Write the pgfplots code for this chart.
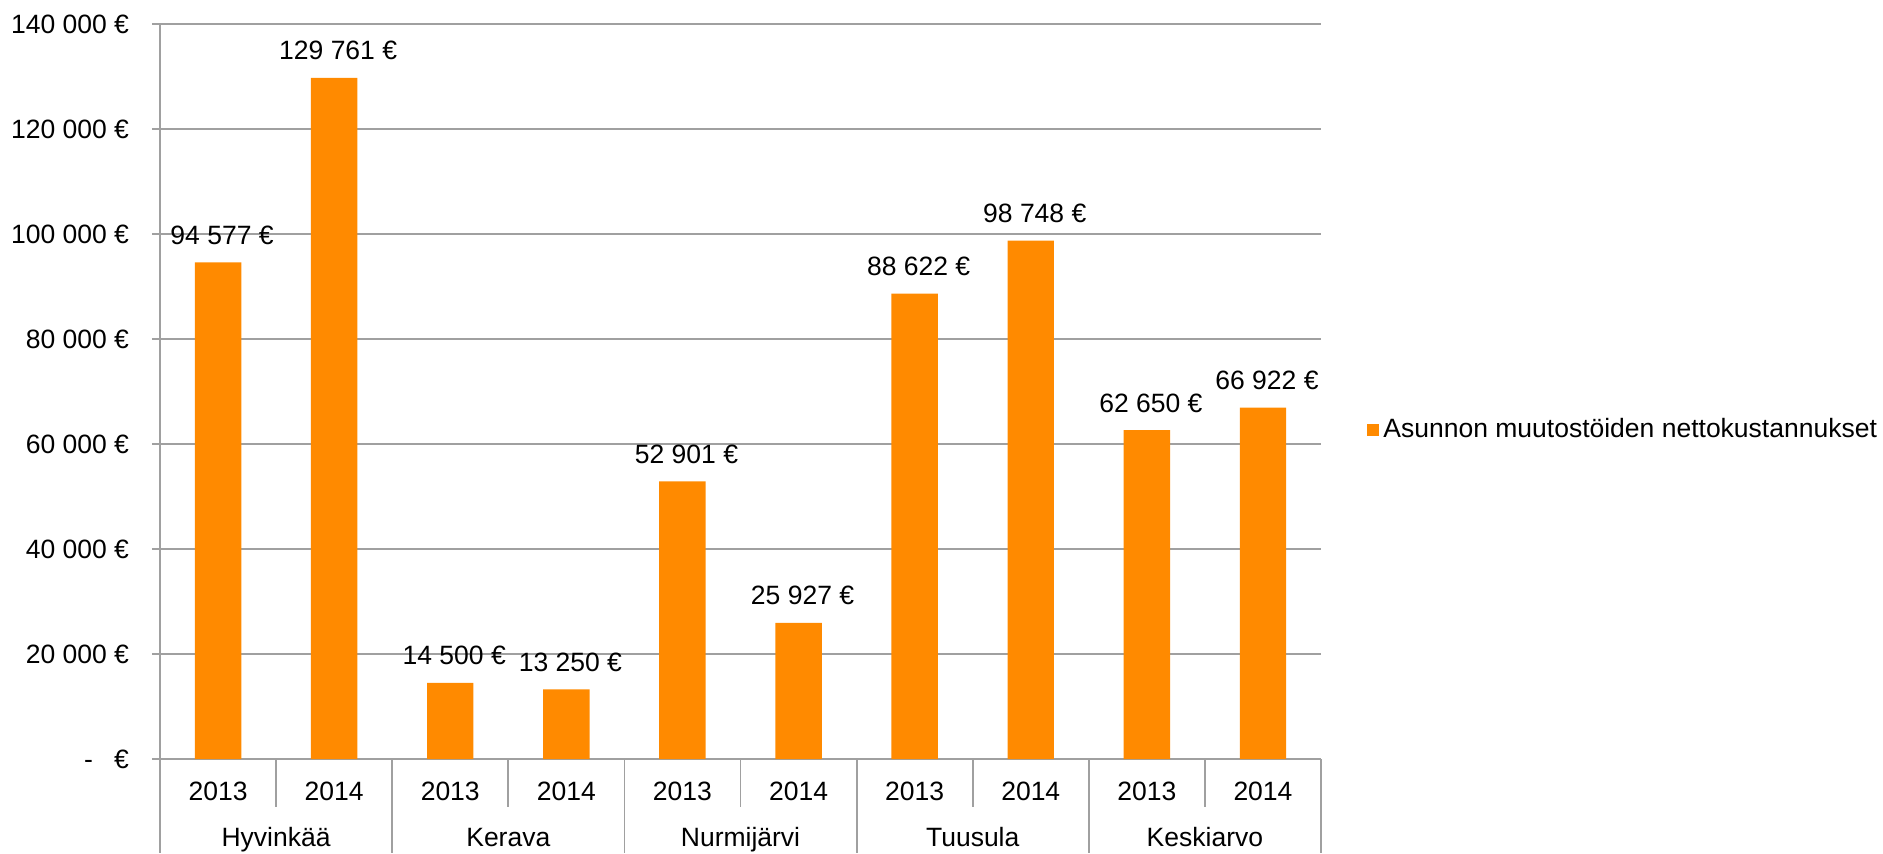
\documentclass[border=0pt]{standalone}
\usepackage{pgfplots}
\pgfplotsset{compat=1.18}
\usepackage{fontspec}
\setmainfont{Liberation Sans}
\definecolor{barorange}{HTML}{FF8A00}
\definecolor{linegray}{HTML}{A0A0A0}
\newcommand{\lab}{\fontsize{13.25}{16}\selectfont}
\begin{document}
\begin{tikzpicture}
\useasboundingbox (0,0) rectangle (941.5pt,426.5pt);
\begin{axis}[
    at={(80pt,47pt)}, anchor=south west,
    width=580.5pt, height=367.5pt, scale only axis,
    xmin=-0.5, xmax=9.5, ymin=0, ymax=140000,
    axis x line*=bottom, axis y line*=left,
    axis line style={linegray, line width=0.9pt},
    ymajorgrids, grid style={linegray, line width=0.9pt},
    ytick={0,20000,...,140000}, scaled y ticks=false,
    yticklabels={{-\hspace{0.8em}€},20 000 €,40 000 €,60 000 €,80 000 €,100 000 €,120 000 €,140 000 €},
    tick align=outside,
    major tick length=4pt,
    tick style={linegray, line width=0.9pt},
    xtick={0,...,9}, xticklabels={2013,2014,2013,2014,2013,2014,2013,2014,2013,2014},
    x tick style={draw=none},
    xticklabel style={anchor=base, yshift=-16.5pt, font=\lab},
    yticklabel style={anchor=east, xshift=-8pt, font=\lab},
    ybar, bar width=0.4, bar shift=0pt,
    nodes near coords, point meta=explicit symbolic,
    every node near coord/.append style={font=\lab, anchor=base, yshift=9pt, xshift=2pt},
    clip=false,
    legend style={at={(1,0.448)}, anchor=west, xshift=20pt, draw=none, fill=none, font=\lab},
    legend image code/.code={\fill[barorange] (0pt,-3pt) rectangle (6pt,3pt);},
]
\addplot[fill=barorange, draw=none] coordinates {
    (0,94577) [94 577 €]
    (1,129761) [129 761 €]
    (2,14500) [14 500 €]
    (3,13250) [13 250 €]
    (4,52901) [52 901 €]
    (5,25927) [25 927 €]
    (6,88622) [88 622 €]
    (7,98748) [98 748 €]
    (8,62650) [62 650 €]
    (9,66922) [66 922 €]
};
\addlegendentry{Asunnon muutostöiden nettokustannukset}
% separators of the category rows
\draw[linegray, line width=0.9pt] (axis cs:-0.5,0) -- ++(0pt,-47pt);
\draw[linegray, line width=0.9pt] (axis cs:1.5,0) -- ++(0pt,-47pt);
\draw[linegray, line width=0.9pt] (axis cs:3.5,0) -- ++(0pt,-47pt);
\draw[linegray, line width=0.9pt] (axis cs:5.5,0) -- ++(0pt,-47pt);
\draw[linegray, line width=0.9pt] (axis cs:7.5,0) -- ++(0pt,-47pt);
\draw[linegray, line width=0.9pt] (axis cs:9.5,0) -- ++(0pt,-47pt);
\draw[linegray, line width=0.9pt] (axis cs:0.5,0) -- ++(0pt,-24pt);
\draw[linegray, line width=0.9pt] (axis cs:2.5,0) -- ++(0pt,-24pt);
\draw[linegray, line width=0.9pt] (axis cs:4.5,0) -- ++(0pt,-24pt);
\draw[linegray, line width=0.9pt] (axis cs:6.5,0) -- ++(0pt,-24pt);
\draw[linegray, line width=0.9pt] (axis cs:8.5,0) -- ++(0pt,-24pt);
\node[anchor=base, font=\lab] at ([yshift=-43.5pt]axis cs:0.5,0) {Hyvinkää};
\node[anchor=base, font=\lab] at ([yshift=-43.5pt]axis cs:2.5,0) {Kerava};
\node[anchor=base, font=\lab] at ([yshift=-43.5pt]axis cs:4.5,0) {Nurmijärvi};
\node[anchor=base, font=\lab] at ([yshift=-43.5pt]axis cs:6.5,0) {Tuusula};
\node[anchor=base, font=\lab] at ([yshift=-43.5pt]axis cs:8.5,0) {Keskiarvo};
\end{axis}
\end{tikzpicture}
\end{document}
